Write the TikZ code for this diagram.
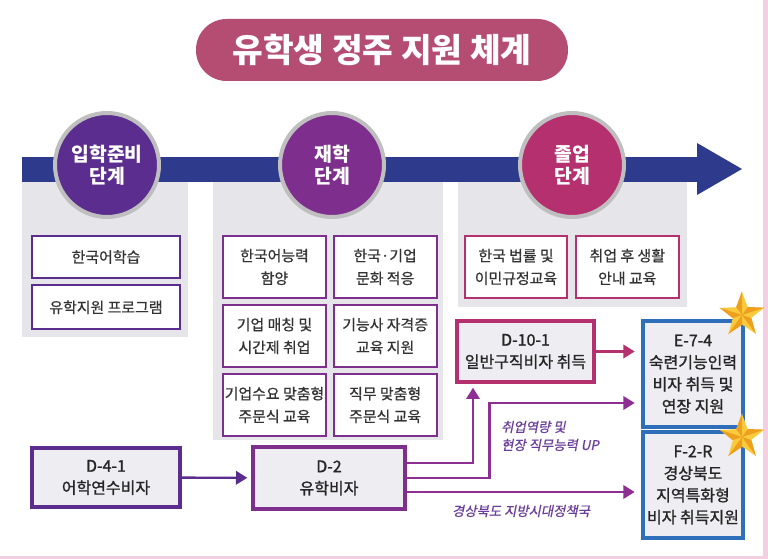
\documentclass[tikz,border=0pt]{standalone}
\usepackage{fontspec}
\setmainfont{Noto Sans CJK KR}
\newfontfamily\slantkr{Noto Sans CJK KR}[FakeSlant=0.2, FakeBold=0.6]
\newfontfamily\medkr{Noto Sans CJK KR}[FakeBold=1.2]
\newfontfamily\boxkr{Noto Sans CJK KR}[FakeBold=0.6]
\usepackage{xcolor}
\usepackage{tikz}
\usetikzlibrary{arrows.meta, positioning, shapes.geometric, calc}

\definecolor{navyband}{HTML}{2E3A8C}
\definecolor{titlepink}{HTML}{B54D73}
\definecolor{panelgray}{HTML}{E6E6EA}
\definecolor{boxgray}{HTML}{EEEEF2}
\definecolor{prepurple}{HTML}{5B2D8E}
\definecolor{midpurple}{HTML}{7E2F8E}
\definecolor{gradpink}{HTML}{B5306E}
\definecolor{linkpurple}{HTML}{8E2F94}
\definecolor{visablue}{HTML}{2F6FBA}
\definecolor{framepink}{HTML}{F3CFE2}
\definecolor{notepurple}{HTML}{6A3D9A}
\definecolor{starlight}{HTML}{F9CB3C}
\definecolor{stardark}{HTML}{EE9F1E}

\begin{document}
\begin{tikzpicture}[
    x=0.75pt, y=-0.75pt,
    stage/.style={circle, draw=gray!50, line width=3pt, fill=#1, minimum size=78pt, inner sep=0pt,
        align=center, text=white, font=\bfseries\fontsize{14.5}{16.5}\selectfont},
    task/.style={draw=#1, line width=1.5pt, fill=white, inner sep=0pt, align=center,
        text=black!80, font=\boxkr\fontsize{11.2}{17}\selectfont},
    visa/.style={draw=#1, line width=2.5pt, fill=boxgray, inner sep=0pt, align=center,
        text=black!85, font=\medkr\fontsize{12}{16.5}\selectfont},
    note/.style={text=notepurple, align=left, inner sep=0pt, font=\slantkr\fontsize{10}{13.5}\selectfont},
    goldstar/.style={star, star points=5, star point ratio=2.4, minimum size=34.5pt, inner sep=0pt, fill=starlight},
    arrow/.style={-{Triangle[length=8.5pt, width=10pt]}, line width=1.8pt, shorten >=3pt}
]
    \useasboundingbox (0,0) rectangle (768,559);
    \fill[white] (0,0) rectangle (768,559);
    \fill[framepink] (763,0) rectangle (768,559);
    \fill[framepink] (0,556) rectangle (768,559);

    % title
    \node[fill=titlepink, rounded corners=23pt, minimum width=279pt, minimum height=46.5pt,
        text=white, font=\bfseries\fontsize{25}{30}\selectfont] (title) at (382,50) {유학생 정주 지원 체계};

    % stage panels and timeline
    \fill[panelgray] (22,182) rectangle (188,337);
    \fill[panelgray] (213,182) rectangle (443,440);
    \fill[panelgray] (458,182) rectangle (687,307);
    \fill[navyband] (22,157) rectangle (700,182);
    \fill[navyband] (697,143) -- (742,169) -- (697,195) -- cycle;

    \node[stage=prepurple] (prep) at (107,165) {입학준비\\단계};
    \node[stage=midpurple] (study) at (332,165) {재학\\단계};
    \node[stage=gradpink] (grad) at (572,165) {졸업\\단계};

    % before entry
    \node[task=prepurple, minimum width=111pt, minimum height=31.5pt] (korean) at (106,257) {한국어학습};
    \node[task=prepurple, minimum width=111pt, minimum height=33pt, below=4pt of korean] (support) {유학지원 프로그램};

    % during study
    \node[task=midpurple, minimum width=77pt, minimum height=46.5pt] (topik) at (274.5,267) {한국어능력\\함양};
    \node[task=midpurple, minimum width=77pt, minimum height=46.5pt, right=4.5pt of topik] (culture) {한국·기업\\문화 적응};
    \node[task=midpurple, minimum width=77pt, minimum height=46.5pt, below=3.75pt of topik] (match) {기업 매칭 및\\시간제 취업};
    \node[task=midpurple, minimum width=77pt, minimum height=46.5pt, below=3.75pt of culture] (license) {기능사 자격증\\교육 지원};
    \node[task=midpurple, minimum width=77pt, minimum height=46.5pt, below=3.75pt of match] (order) {기업수요 맞춤형\\주문식 교육};
    \node[task=midpurple, minimum width=77pt, minimum height=46.5pt, below=3.75pt of license] (jobfit) {직무 맞춤형\\주문식 교육};

    % graduation
    \node[task=gradpink, minimum width=77pt, minimum height=46.5pt] (law) at (516,267) {한국 법률 및\\이민규정교육};
    \node[task=gradpink, minimum width=77pt, minimum height=46.5pt, right=5pt of law] (life) {취업 후 생활\\안내 교육};

    % visas
    \node[visa=prepurple, minimum width=111pt, minimum height=44.25pt] (d41) at (106,477.5) {D-4-1\\어학연수비자};
    \node[visa=midpurple, minimum width=114pt, minimum height=46.5pt] (d2) at (329,478) {D-2\\유학비자};
    \node[visa=gradpink, minimum width=102.75pt, minimum height=45.75pt] (d101) at (525.5,351.5) {D-10-1\\일반구직비자 취득};
    \node[visa=visablue, minimum width=75pt, minimum height=79.5pt] (e74) at (693,374) {E-7-4\\숙련기능인력\\비자 취득 및\\연장 지원};
    \node[visa=visablue, minimum width=75pt, minimum height=79.5pt] (f2r) at (693,485) {F-2-R\\경상북도\\지역특화형\\비자 취득지원};

    \node[goldstar] (star1) at (742,315) {};
    \node[goldstar] (star2) at (742,437) {};
    \foreach \s in {star1, star2}
        \foreach \i in {1,...,5}
            \fill[stardark] (\s.center) -- (\s.outer point \i) -- (\s.inner point \i) -- cycle;

    % links
    \coordinate (d2up) at ($(d2.east)+(0,-15)$);
    \coordinate (d2low) at ($(d2.east)+(0,14)$);
    \draw[arrow, prepurple] (d41) -- (d2);
    \draw[arrow, gradpink, shorten >=5pt] (d101.east) -- (d101.east -| e74.west);
    \draw[arrow, linkpurple] (d2up) -| ($(d101.south)+(-52.5,0)$);
    \draw[arrow, linkpurple, shorten >=5pt] (d2.east) -- ++(83,0) |- ($(e74.west)+(0,29)$);
    \draw[arrow, linkpurple, shorten >=5pt] (d2low) -- (d2low -| f2r.west);

    \node[note, anchor=west] (upnote) at (501,436) {취업역량 및\\현장 직무능력 UP};
    \node[note] (policy) at (521,511) {경상북도 지방시대정책국};
\end{tikzpicture}
\end{document}
